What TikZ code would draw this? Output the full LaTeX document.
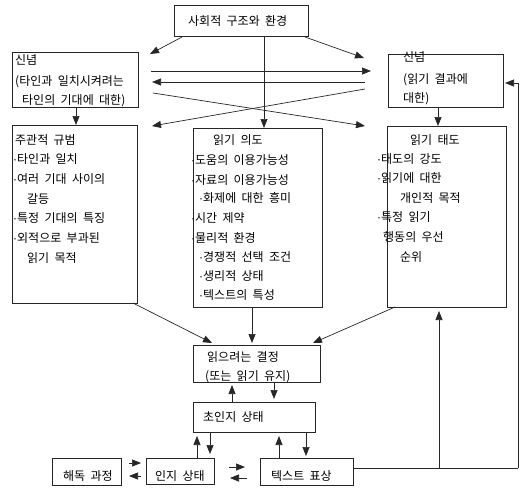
\documentclass[tikz,border=0pt]{standalone}
\usepackage{fontspec}
\setmainfont{Noto Sans CJK KR}[WordSpace=2]
\newfontfamily\latinfont{Liberation Sans}
\usetikzlibrary{arrows.meta}
\newcommand\bul{{\latinfont\raisebox{0pt}{·}}}
\begin{document}
\begin{tikzpicture}[x=1pt,y=-1pt,
  box/.style={draw=black!85, line width=0.7pt, inner sep=0, anchor=north west, rectangle},
  txt/.style={anchor=west, inner sep=0, font=\fontsize{12}{14}\selectfont},
  arr/.style={draw=black!85, line width=0.7pt, -{Triangle[length=9pt,width=7pt]}},
  ln/.style={draw=black!85, line width=0.7pt}]
\useasboundingbox (0,0) rectangle (530,491);
% boxes
\node[box, minimum width=134pt, minimum height=31pt] (top) at (174,5) {};
\node[box, minimum width=126pt, minimum height=55pt] (bl) at (12,52) {};
\node[box, minimum width=115pt, minimum height=53pt] (br) at (388,54) {};
\node[box, minimum width=125pt, minimum height=178pt] (L) at (12,125) {};
\node[box, minimum width=129pt, minimum height=179pt] (M) at (193,128) {};
\node[box, minimum width=119pt, minimum height=181pt] (R) at (387,126) {};
\node[box, minimum width=127pt, minimum height=37pt] (D) at (193,345) {};
\node[box, minimum width=122pt, minimum height=30pt] (C) at (193,402) {};
\node[box, minimum width=69pt, minimum height=27pt] (H) at (52,458) {};
\node[box, minimum width=68pt, minimum height=26pt] (I) at (146,458) {};
\node[box, minimum width=93pt, minimum height=27pt] (T) at (260,458) {};
% texts
\node[txt] (ttop) at (188,21) {사회적 구조와 환경};
\node[txt] (bl1) at (15,60) {신념};
\node[txt] (bl2) at (15,82) {(타인과 일치시켜려는};
\node[txt] (bl3) at (22,101) {타인의 기대에 대한)};
\node[txt] (br1) at (403,57) {신념};
\node[txt] (br2) at (403,80) {(읽기 결과에};
\node[txt] (br3) at (403,99) {대한)};
\node[txt] (L1) at (15,140) {주관적 규범};
\node[txt] (L2) at (13,159) {\bul 타인과 일치};
\node[txt] (L3) at (13,179) {\bul 여러 기대 사이의};
\node[txt] (L4) at (27,199) {갈등};
\node[txt] (L5) at (13,218) {\bul 특정 기대의 특징};
\node[txt] (L6) at (13,238) {\bul 외적으로 부과된};
\node[txt] (L7) at (27,258) {읽기 목적};
\node[txt] (M1) at (213,140) {읽기 의도};
\node[txt] (M2) at (191,160) {\bul 도움의 이용가능성};
\node[txt] (M3) at (191,180) {\bul 자료의 이용가능성};
\node[txt] (M4) at (199,198) {\bul 화제에 대한 흥미};
\node[txt] (M5) at (191,218) {\bul 시간 제약};
\node[txt] (M6) at (191,238) {\bul 물리적 환경};
\node[txt] (M7) at (199,257) {\bul 경쟁적 선택 조건};
\node[txt] (M8) at (199,276) {\bul 생리적 상태};
\node[txt] (M9) at (199,295) {\bul 텍스트의 특성};
\node[txt] (R1) at (410,140) {읽기 태도};
\node[txt] (R2) at (377,159) {\bul 태도의 강도};
\node[txt] (R3) at (377,178) {\bul 읽기에 대한};
\node[txt] (R4) at (400,198) {개인적 목적};
\node[txt] (R5) at (377,217) {\bul 특정 읽기};
\node[txt] (R6) at (383,237) {행동의 우선};
\node[txt] (R7) at (400,257) {순위};
\node[txt] (D1) at (207,357) {읽으려는 결정};
\node[txt] (D2) at (205,377) {(또는 읽기 유지)};
\node[txt] (C1) at (203,417) {초인지 상태};
\node[txt] (H1) at (63,476) {해독 과정};
\node[txt] (I1) at (155,476) {인지 상태};
\node[txt] (T1) at (271,476) {텍스트 표상};
% connector end points
\coordinate (a1s) at (182,37); \coordinate (a1e) at (150,54);
\coordinate (a2s) at (305,37); \coordinate (a2e) at (364,58);
\coordinate (a3s) at (151,71); \coordinate (a3e) at (371,71);
\coordinate (a4s) at (365,82); \coordinate (a4e) at (152,82);
\coordinate (a5s) at (153,93); \coordinate (a5e) at (365,126);
\coordinate (a6s) at (365,89); \coordinate (a6e) at (152,126);
\coordinate (a7s) at (264,36); \coordinate (a7e) at (264,128);
\coordinate (a8s) at (76,107); \coordinate (a8e) at (76,125);
\coordinate (a9s) at (438,107); \coordinate (a9e) at (438,126);
\coordinate (a10s) at (133,303); \coordinate (a10e) at (212,343);
\coordinate (a11s) at (252,307); \coordinate (a11e) at (252,343);
\coordinate (a12s) at (395,307); \coordinate (a12e) at (313,343);
\coordinate (a13s) at (232,402); \coordinate (a13e) at (232,385);
\coordinate (a14s) at (274,382); \coordinate (a14e) at (274,399);
\coordinate (a15s) at (197,458); \coordinate (a15e) at (197,436);
\coordinate (a16s) at (210,432); \coordinate (a16e) at (210,454);
\coordinate (a17s) at (279,458); \coordinate (a17e) at (279,436);
\coordinate (a18s) at (306,432); \coordinate (a18e) at (306,456);
\coordinate (a19s) at (129,463); \coordinate (a19e) at (141,463);
\coordinate (a20s) at (141,476); \coordinate (a20e) at (129,476);
\coordinate (a21s) at (229,467); \coordinate (a21e) at (245,467);
\coordinate (a22s) at (247,478); \coordinate (a22e) at (230,478);
\coordinate (fbA) at (353,468); \coordinate (fbB) at (518,468);
\coordinate (fbC) at (518,83); \coordinate (fbD) at (505,83);
\coordinate (fbE) at (439,468); \coordinate (fbF) at (439,311);
% connectors
\foreach \i in {1,...,22} {\draw[arr] (a\i s) -- (a\i e);}
\draw[ln] (fbA) -- (fbB);
\draw[arr] (fbB) -- (fbC) -- (fbD);
\draw[arr] (fbE) -- (fbF);
\end{tikzpicture}
\end{document}
